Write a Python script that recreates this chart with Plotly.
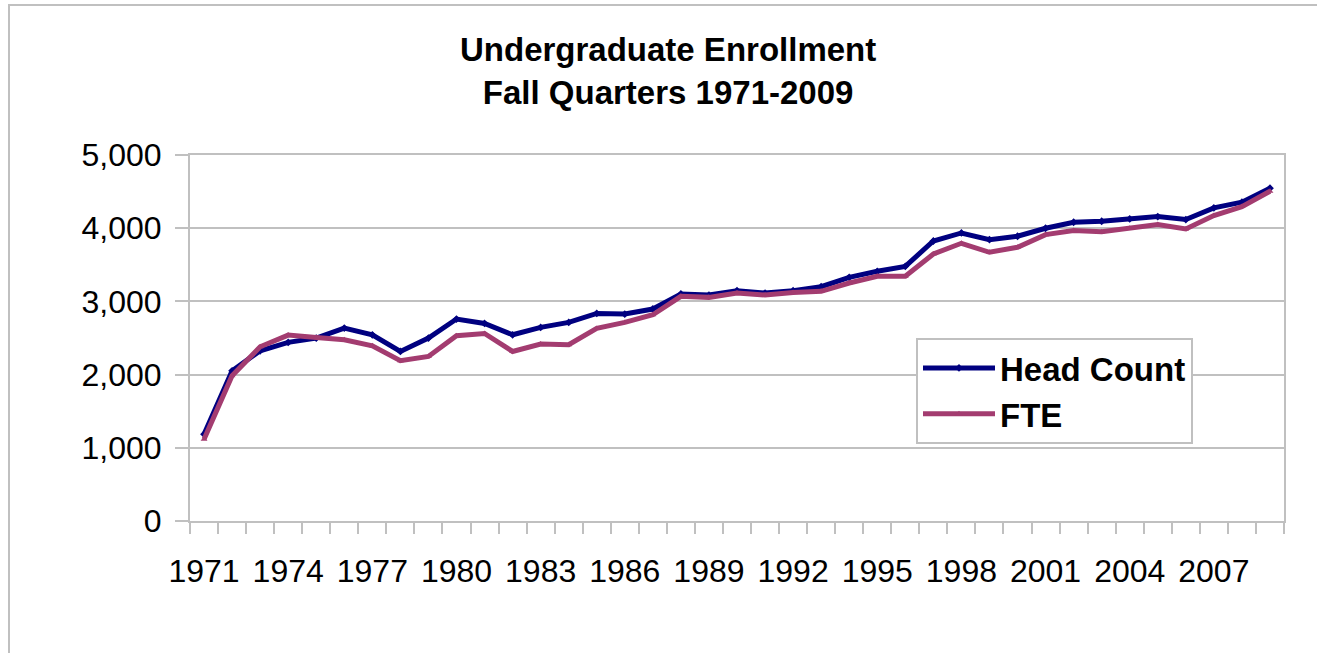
import plotly.graph_objects as go

years = list(range(1971, 2010))
head_count = [1186, 2052, 2326, 2440, 2499, 2636, 2544, 2316, 2499, 2759,
              2699, 2544, 2645, 2713, 2836, 2827, 2896, 3101, 3087, 3146,
              3114, 3146, 3201, 3329, 3411, 3479, 3825, 3935, 3844, 3890,
              3999, 4081, 4095, 4127, 4159, 4118, 4277, 4355, 4546]
fte = [1117, 1984, 2380, 2540, 2508, 2476, 2394, 2189, 2248, 2531,
       2562, 2316, 2417, 2408, 2631, 2713, 2818, 3069, 3055, 3114,
       3087, 3123, 3137, 3251, 3343, 3343, 3648, 3794, 3671, 3739,
       3912, 3967, 3953, 3999, 4049, 3990, 4172, 4295, 4505]
label_years = [1971, 1974, 1977, 1980, 1983, 1986, 1989, 1992, 1995, 1998, 2001, 2004, 2007]
y_ticks = [0, 1000, 2000, 3000, 4000, 5000]

GRID = "#c0c0c0"
W, H = 1317, 653
OFF = 0  # body margin removed below
PL, PR, PT, PB = 190, 1284, 155, 521
L, T = PL - OFF, PT - OFF
R = W - (PR - OFF)
B = H - (PB - OFF)
pw, ph = PR - PL, PB - PT

def px(xp):
    return (xp - PL) / pw

def py(yp):
    return (PB - yp) / ph

fig = go.Figure()
fig.add_trace(go.Scatter(
    x=years, y=head_count, name="Head Count", mode="lines+markers",
    line=dict(color="#000080", width=5),
    marker=dict(symbol="diamond", size=6, color="#000080"),
))
fig.add_trace(go.Scatter(
    x=years, y=fte, name="FTE", mode="lines+markers",
    line=dict(color="#A33C70", width=5),
    marker=dict(symbol="triangle-up", size=6, color="#A33C70"),
))

fig.update_layout(
    width=W, height=H,
    margin=dict(l=L, r=R, t=T, b=B),
    paper_bgcolor="white", plot_bgcolor="white",
    font=dict(family="Liberation Sans, Arial, sans-serif", color="black"),
    showlegend=True,
    legend=dict(
        x=px(916), y=py(338), xanchor="left", yanchor="top",
        bgcolor="white", bordercolor=GRID, borderwidth=2,
        font=dict(size=33, family="Liberation Sans, Arial, sans-serif", weight="bold"),
        itemwidth=72, tracegroupgap=4,
    ),
    annotations=[dict(
        text="<b>Undergraduate Enrollment<br>Fall Quarters 1971-2009</b>",
        xref="paper", yref="paper", x=px(668), y=py(71), xanchor="center", yanchor="middle",
        showarrow=False, font=dict(size=33, family="Liberation Sans, Arial, sans-serif"),
    )],
    shapes=[dict(
        type="rect", xref="paper", yref="paper",
        x0=px(9), x1=px(1345), y0=py(680), y1=py(5),
        line=dict(color=GRID, width=2), layer="below",
    )],
)

fig.update_xaxes(
    type="linear", range=[1970.5, 2009.5],
    tickvals=label_years, ticktext=[str(v) for v in label_years],
    ticks="", showgrid=False, zeroline=False,
    showline=True, linecolor=GRID, linewidth=2, mirror=True,
    tickfont=dict(size=32), ticklabelstandoff=21,
    minor=dict(tick0=0.5, dtick=1, ticks="outside", ticklen=11, tickwidth=2,
               tickcolor=GRID, showgrid=False),
)
fig.update_yaxes(
    range=[0, 5000], tickvals=y_ticks, ticktext=[f"{v:,}" for v in y_ticks],
    showgrid=True, gridcolor=GRID, gridwidth=2, zeroline=False,
    showline=True, linecolor=GRID, linewidth=2, mirror=True,
    ticks="outside", ticklen=13, tickwidth=2, tickcolor=GRID,
    tickfont=dict(size=32), ticklabelstandoff=7,
)

fig.write_html("out.html", config={"displayModeBar": False},
               post_script="document.body.style.margin='0';")
